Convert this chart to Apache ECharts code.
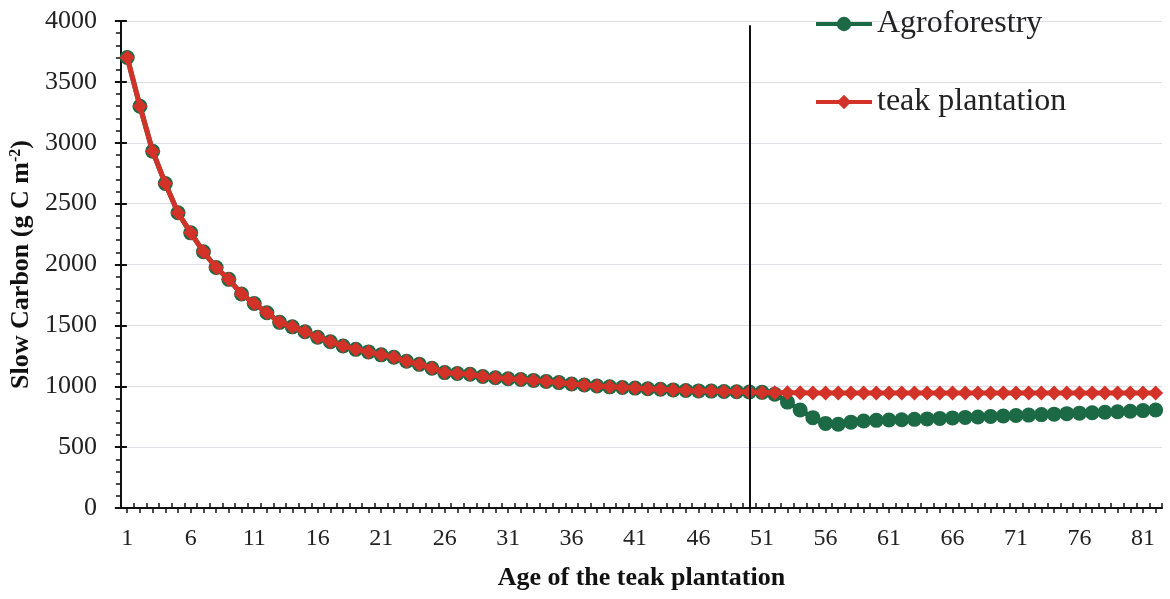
<!DOCTYPE html>
<html>
<head>
<meta charset="utf-8">
<script src="https://cdn.jsdelivr.net/npm/echarts@6/dist/echarts.min.js"></script>
<style>
  html, body { margin: 0; padding: 0; background: #fff; }
  #chart { width: 1170px; height: 599px; }
</style>
</head>
<body>
<div id="chart"></div>
<script>
// ages 1..82
const ages = Array.from({ length: 82 }, (_, i) => String(i + 1));

const agroforestry = [
  3700, 3300, 2930, 2665, 2425, 2260, 2105, 1975, 1878, 1758,
  1680, 1604, 1525, 1488, 1448, 1402, 1366, 1331, 1303, 1282,
  1258, 1238, 1205, 1180, 1148, 1112, 1105, 1098, 1080, 1070,
  1062, 1055, 1048, 1040, 1030, 1018, 1010, 1002, 995, 990,
  985, 980, 975, 970, 965, 962, 960, 957, 955, 953,
  950, 935, 870, 805, 742, 695, 688, 705, 715, 720,
  723, 725, 728, 732, 736, 740, 744, 748, 752, 756,
  760, 763, 767, 771, 775, 779, 782, 786, 790, 795,
  800, 805
];

const teakPlantation = [
  3700, 3300, 2930, 2665, 2425, 2260, 2105, 1975, 1878, 1758,
  1680, 1604, 1525, 1488, 1448, 1402, 1366, 1331, 1303, 1282,
  1258, 1238, 1205, 1180, 1148, 1112, 1105, 1098, 1080, 1070,
  1062, 1055, 1048, 1040, 1030, 1018, 1010, 1002, 995, 990,
  985, 980, 975, 970, 965, 962, 960, 957, 955, 953,
  948, 947, 946, 946, 945, 945, 945, 945, 945, 945,
  945, 945, 945, 945, 945, 945, 945, 945, 945, 945,
  945, 945, 945, 945, 945, 945, 945, 945, 945, 945,
  945, 945
];

const cutAge = '50';

const GREEN = '#1c6a45';
const RED = '#d23228';
const FONT = '"Liberation Serif", "Times New Roman", serif';

const chart = echarts.init(document.getElementById('chart'));

chart.setOption({
  animation: false,
  backgroundColor: '#fff',
  textStyle: { fontFamily: FONT },
  grid: { left: 120, right: 8, top: 21, bottom: 91 },
  legend: {
    orient: 'vertical',
    left: 809,
    top: 3,
    itemWidth: 56,
    itemHeight: 18,
    itemGap: 46,
    lineStyle: { width: 4 },
    textStyle: { fontFamily: FONT, fontSize: 32, color: '#222' },
    data: ['Agroforestry', 'teak plantation']
  },
  xAxis: [
    {
      type: 'category',
      data: ages,
      boundaryGap: true,
      name: 'Age of the teak plantation',
      nameLocation: 'middle',
      nameGap: 57,
      nameTextStyle: { fontFamily: FONT, fontWeight: 'bold', fontSize: 26, color: '#111' },
      axisLine: { lineStyle: { color: '#111', width: 2 } },
      axisTick: { show: true, inside: true, length: 5, interval: 0, lineStyle: { color: '#111', width: 1.5 } },
      axisLabel: { interval: 4, margin: 19, fontSize: 24, color: '#222', fontFamily: FONT },
      splitLine: { show: false }
    },
    {
      type: 'category',
      data: ages,
      position: 'bottom',
      boundaryGap: true,
      axisLine: { show: false },
      axisTick: { show: true, alignWithLabel: true, length: 5, interval: 0, lineStyle: { color: '#111', width: 1.5 } },
      axisLabel: { show: false },
      splitLine: { show: false }
    }
  ],
  yAxis: [
    {
      type: 'value',
      min: 0,
      max: 4000,
      interval: 500,
      name: '{b|Slow Carbon (g C m}{s|-2}{b|)}',
      nameLocation: 'middle',
      nameGap: 84,
      nameTextStyle: {
        rich: {
          b: { fontFamily: FONT, fontWeight: 'bold', fontSize: 26, color: '#111' },
          s: { fontFamily: FONT, fontWeight: 'bold', fontSize: 16, color: '#111', verticalAlign: 'top', padding: [0, 0, 9, 0] }
        }
      },
      axisLine: { show: true, lineStyle: { color: '#111', width: 2 } },
      axisTick: { show: true, length: 6, lineStyle: { color: '#111', width: 2 } },
      minorTick: { show: true, splitNumber: 5, length: 5, lineStyle: { color: '#111', width: 1.5 } },
      axisLabel: { margin: 24, fontSize: 26, color: '#222', fontFamily: FONT, formatter: v => String(v) },
      splitLine: { show: true, lineStyle: { color: '#dcdfe8', width: 1 } }
    },
    {
      type: 'value',
      min: 0,
      max: 4000,
      interval: 500,
      position: 'left',
      axisLine: { show: false },
      axisTick: { show: true, inside: true, length: 6, lineStyle: { color: '#111', width: 2 } },
      axisLabel: { show: false },
      splitLine: { show: false }
    }
  ],
  series: [
    {
      name: 'Agroforestry',
      type: 'line',
      data: agroforestry,
      symbol: 'circle',
      symbolSize: 15,
      showAllSymbol: true,
      itemStyle: { color: GREEN },
      lineStyle: { color: GREEN, width: 5 },
      z: 2
    },
    {
      name: 'teak plantation',
      type: 'line',
      data: teakPlantation,
      symbol: 'diamond',
      symbolSize: 15,
      showAllSymbol: true,
      itemStyle: { color: RED },
      lineStyle: { color: RED, width: 5 },
      z: 3,
      markLine: {
        silent: true,
        symbol: 'none',
        label: { show: false },
        lineStyle: { color: '#111', width: 2, type: 'solid' },
        data: [[{ coord: [cutAge, 3965] }, { coord: [cutAge, 0] }]]
      }
    }
  ]
});
</script>
</body>
</html>
